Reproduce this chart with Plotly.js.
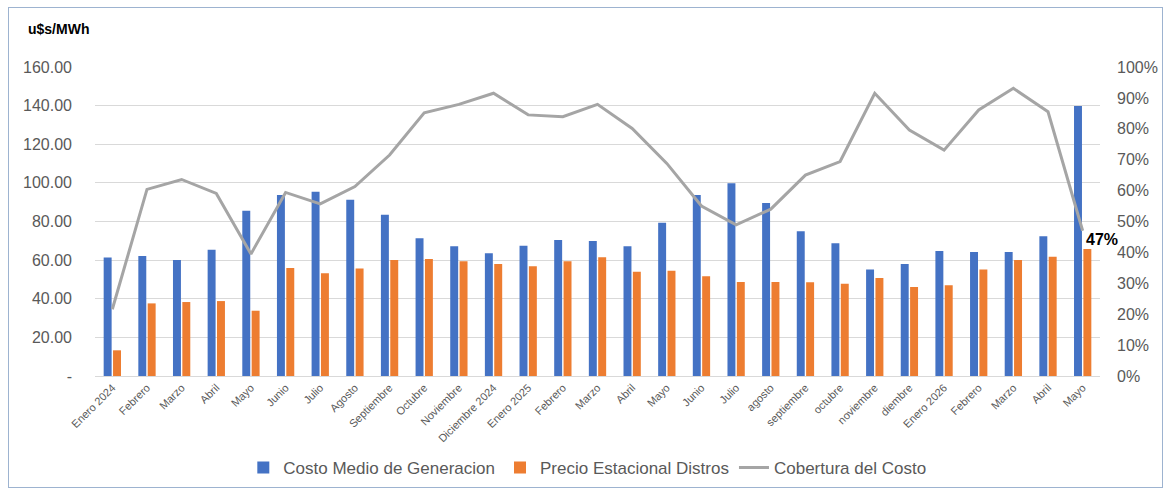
<!DOCTYPE html>
<html>
<head>
<meta charset="utf-8">
<script src="https://cdn.plot.ly/plotly-3.0.1.min.js"></script>
<style>
  html, body { margin: 0; padding: 0; background: #fff; }
  #chart { width: 1163px; height: 488px; position: absolute; left: 0; top: 0; }
  #frame { position: absolute; left: 8px; top: 7px; width: 1153px; height: 479px; border: 1px solid #9DB3D0; pointer-events: none; }
</style>
</head>
<body>
<div id="chart"></div>
<div id="frame"></div>
<script>
const categories = ["Enero 2024","Febrero","Marzo","Abril","Mayo","Junio","Julio","Agosto","Septiembre","Octubre","Noviembre","Diciembre 2024","Enero 2025","Febrero","Marzo","Abril","Mayo","Junio","Julio","agosto","septiembre","octubre","noviembre","diembre","Enero 2026","Febrero","Marzo","Abril","Mayo"];
const costoMedio = [61.3,62.1,60.1,65.4,85.6,93.7,95.4,91.3,83.5,71.3,67.2,63.5,67.5,70.4,69.9,67.2,79.4,93.7,99.8,89.6,74.9,68.7,55.2,58.0,64.7,64.2,64.2,72.3,139.8];
const precioEstacional = [13.3,37.6,38.3,38.8,33.8,55.9,53.2,55.6,60.1,60.6,59.4,58.0,56.8,59.4,61.5,54.0,54.5,51.6,48.7,48.7,48.5,47.8,50.7,46.1,47.0,55.2,60.1,61.8,65.8];
const cobertura = [0.216,0.604,0.636,0.591,0.395,0.594,0.557,0.613,0.715,0.852,0.879,0.915,0.845,0.839,0.879,0.801,0.688,0.550,0.489,0.540,0.650,0.694,0.915,0.796,0.731,0.861,0.931,0.855,0.470];
const leftTickVals = [0,20,40,60,80,100,120,140,160];
const leftTickText = ["-","20.00","40.00","60.00","80.00","100.00","120.00","140.00","160.00"];
const rightTickVals = [0,0.1,0.2,0.3,0.4,0.5,0.6,0.7,0.8,0.9,1.0];
const rightTickText = ["0%","10%","20%","30%","40%","50%","60%","70%","80%","90%","100%"];
const lastLabel = "47%";

const idx = categories.map((_, i) => i);
const FONT = "Liberation Sans, Arial, sans-serif";

const traces = [
  { type: "bar", name: "Costo Medio de Generacion", x: idx, y: costoMedio,
    marker: { color: "#4472C4" }, hoverinfo: "skip" },
  { type: "bar", name: "Precio Estacional Distros", x: idx, y: precioEstacional,
    marker: { color: "#ED7D31" }, hoverinfo: "skip" },
  { type: "scatter", mode: "lines", name: "Cobertura del Costo", x: idx, y: cobertura,
    yaxis: "y2", line: { color: "#A5A5A5", width: 3 }, hoverinfo: "skip" }
];

const layout = {
  width: 1163, height: 488,
  margin: { l: 95, r: 63, t: 67, b: 112, autoexpand: false },
  paper_bgcolor: "#ffffff", plot_bgcolor: "#ffffff",
  font: { family: FONT, color: "#595959" },
  barmode: "group", bargap: 0.46, bargroupgap: 0.15,
  showlegend: true,
  legend: { orientation: "h", xref: "container", yref: "container",
            x: 0.505, xanchor: "center", y: 0.041, yanchor: "middle",
            font: { size: 17, color: "#595959", family: FONT }, traceorder: "normal" },
  xaxis: {
    automargin: false,
    range: [-0.5, categories.length - 0.5],
    tickmode: "array", tickvals: idx, ticktext: categories,
    tickangle: -45, tickfont: { size: 11, color: "#595959" },
    showgrid: false, zeroline: false, showline: true, linecolor: "#D9D9D9", linewidth: 1,
    ticks: ""
  },
  yaxis: {
    automargin: false,
    range: [0, 160], tickmode: "array", tickvals: leftTickVals, ticktext: leftTickText,
    tickfont: { size: 16, color: "#595959" },
    showgrid: true, gridcolor: "#D9D9D9", gridwidth: 1, zeroline: false, showline: false,
    ticks: "", ticklabelstandoff: 22
  },
  yaxis2: {
    automargin: false,
    overlaying: "y", side: "right",
    range: [0, 1], tickmode: "array", tickvals: rightTickVals, ticktext: rightTickText,
    tickfont: { size: 16, color: "#595959" },
    showgrid: false, zeroline: false, showline: false, ticks: "", ticklabelstandoff: 16
  },
  annotations: [
    { xref: "paper", yref: "paper", x: -0.069, y: 1.123, xanchor: "left", yanchor: "middle",
      text: "<b>u$s/MWh</b>", showarrow: false, font: { size: 14, color: "#000000", family: FONT } },
    { xref: "x", yref: "y2", x: idx[idx.length - 1], y: cobertura[cobertura.length - 1],
      xanchor: "left", yanchor: "top", xshift: 1, yshift: 2,
      text: "<b>" + lastLabel + "</b>", showarrow: false,
      font: { size: 16, color: "#000000", family: FONT } }
  ]
};

Plotly.newPlot("chart", traces, layout, { displayModeBar: false, staticPlot: true });
</script>
</body>
</html>
